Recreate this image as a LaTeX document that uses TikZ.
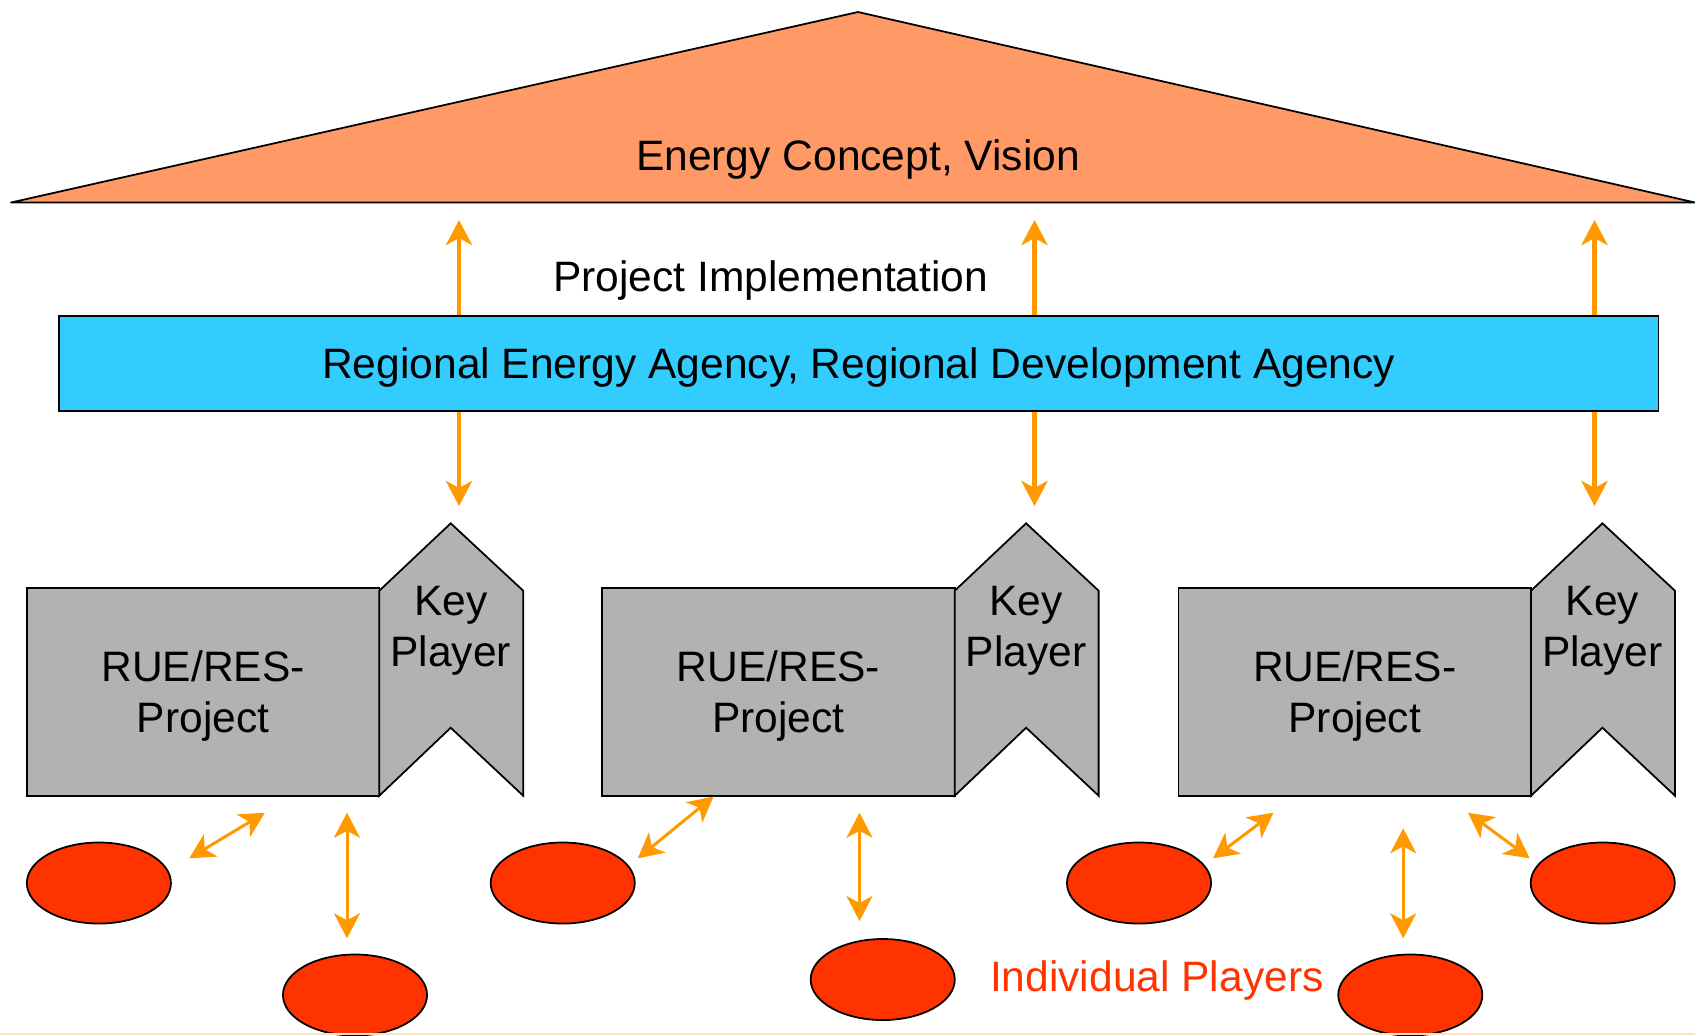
\documentclass[tikz,border=0pt]{standalone}
\usepackage{fontspec}
\setmainfont{Liberation Sans}
\usetikzlibrary{arrows.meta,shapes.geometric}
\definecolor{roofcol}{HTML}{FF9966}
\definecolor{agencycol}{HTML}{33CCFF}
\definecolor{projcol}{HTML}{B2B2B2}
\definecolor{playercol}{HTML}{FF3300}
\definecolor{linkcol}{HTML}{FF9900}
\definecolor{edgecol}{HTML}{FFE0C0}
\tikzset{
	bigtext/.style={font=\fontsize{12.1}{14.4}\selectfont},
	agencybox/.style={draw, fill=agencycol, line width=0.5pt, minimum width=15.985cm, minimum height=0.95cm, inner sep=0pt, text height=0.32cm, text depth=0.025cm, bigtext},
	projbox/.style={draw, fill=projcol, line width=0.5pt, minimum width=3.525cm, minimum height=2.08cm, inner sep=0pt, align=center, text height=0.9cm, text depth=0.09cm, bigtext},
	keyshape/.style={draw, fill=projcol, line width=0.5pt},
	player/.style={draw, fill=playercol, ellipse, line width=0.5pt, minimum width=1.44cm, minimum height=0.81cm, inner sep=0pt},
	uplink/.style={draw=linkcol, line width=1.3pt, -{Stealth[length=0.25cm, width=0.26cm, inset=0.07cm]}},
	twolink/.style={draw=linkcol, line width=0.85pt, {Stealth[length=0.25cm, width=0.26cm, inset=0.07cm]}-{Stealth[length=0.25cm, width=0.26cm, inset=0.07cm]}},
}
% project box with its key player flag: left edge, suffix
\def\projectgroup#1#2{%
	\node[projbox] (proj#2) at (#1+176.25, 691.7) {RUE/RES-\\Project};
	\draw[keyshape] (#1+352.5, 590.7) -- (#1+423.9, 523.3) -- (#1+496.4, 590.7) -- (#1+496.4, 795.7) -- (#1+423.9, 727.7) -- (#1+352.5, 795.7) -- cycle;
	\node[bigtext, align=center, inner sep=0pt] (key#2) at (#1+423.9, 630.5) {Key\\Player};
}

\begin{document}
\begin{tikzpicture}[x=0.01cm, y=-0.01cm]
			%%%%% START %%%%%
			\useasboundingbox (0, 0) rectangle (1695, 1035);
			
			% roof
			\draw[fill=roofcol, line width=0.5pt, line join=round] (11, 202.5) -- (858, 12) -- (1695, 202.5) -- cycle;
			\node[bigtext, anchor=base] (vision) at (858, 170.7) {Energy Concept, Vision};
			
			% agencies
			\node[agencybox] (agency) at (858.75, 363.25) {Regional Energy Agency, Regional Development Agency};
			\node[bigtext, anchor=base] (impl) at (770.7, 291.7) {Project Implementation};
			
			\coordinate (up1) at (459, 220);
			\coordinate (up2) at (1034.5, 220);
			\coordinate (up3) at (1594.5, 220);
			\coordinate (dn1) at (459, 506);
			\coordinate (dn2) at (1034.5, 506);
			\coordinate (dn3) at (1594.5, 506);
			\draw[uplink] (agency.north -| up1) -- (up1);
			\draw[uplink] (agency.north -| up2) -- (up2);
			\draw[uplink] (agency.north -| up3) -- (up3);
			\draw[uplink] (agency.south -| dn1) -- (dn1);
			\draw[uplink] (agency.south -| dn2) -- (dn2);
			\draw[uplink] (agency.south -| dn3) -- (dn3);
			
			% projects
			\projectgroup{26.8}{a}
			\projectgroup{602.2}{b}
			\projectgroup{1178.5}{c}
			
			% individual players
			\node[player] (p1) at (98.9, 883) {};
			\node[player] (p2) at (355, 995) {};
			\node[player] (p3) at (562.7, 883) {};
			\node[player] (p4) at (882.7, 979.5) {};
			\node[player] (p5) at (1139, 883) {};
			\node[player] (p6) at (1410.3, 995) {};
			\node[player] (p7) at (1602.7, 883) {};
			\node[bigtext, anchor=base, text=playercol] (indiv) at (1156.8, 991.7) {Individual Players};
			
			\coordinate (a1) at (189.2, 858.3);
			\coordinate (b1) at (264.9, 812.7);
			\coordinate (a2) at (347, 812.7);
			\coordinate (b2) at (347, 938.3);
			\coordinate (a3) at (637.8, 858.3);
			\coordinate (b3) at (713.5, 796.5);
			\coordinate (a4) at (859.5, 812.7);
			\coordinate (b4) at (859.5, 921);
			\coordinate (a5) at (1213, 858.3);
			\coordinate (b5) at (1273.5, 812.7);
			\coordinate (a6) at (1403.2, 828.3);
			\coordinate (b6) at (1403.2, 938.3);
			\coordinate (a7) at (1468, 812.7);
			\coordinate (b7) at (1529.7, 858.3);
			\draw[twolink] (a1) -- (b1);
			\draw[twolink] (a2) -- (b2);
			\draw[twolink] (a3) -- (b3);
			\draw[twolink] (a4) -- (b4);
			\draw[twolink] (a5) -- (b5);
			\draw[twolink] (a6) -- (b6);
			\draw[twolink] (a7) -- (b7);
			
			\draw[edgecol, line width=0.6pt] (0, 1034) -- (1695, 1034);
			%%%%% END %%%%%
\end{tikzpicture}
\end{document}
